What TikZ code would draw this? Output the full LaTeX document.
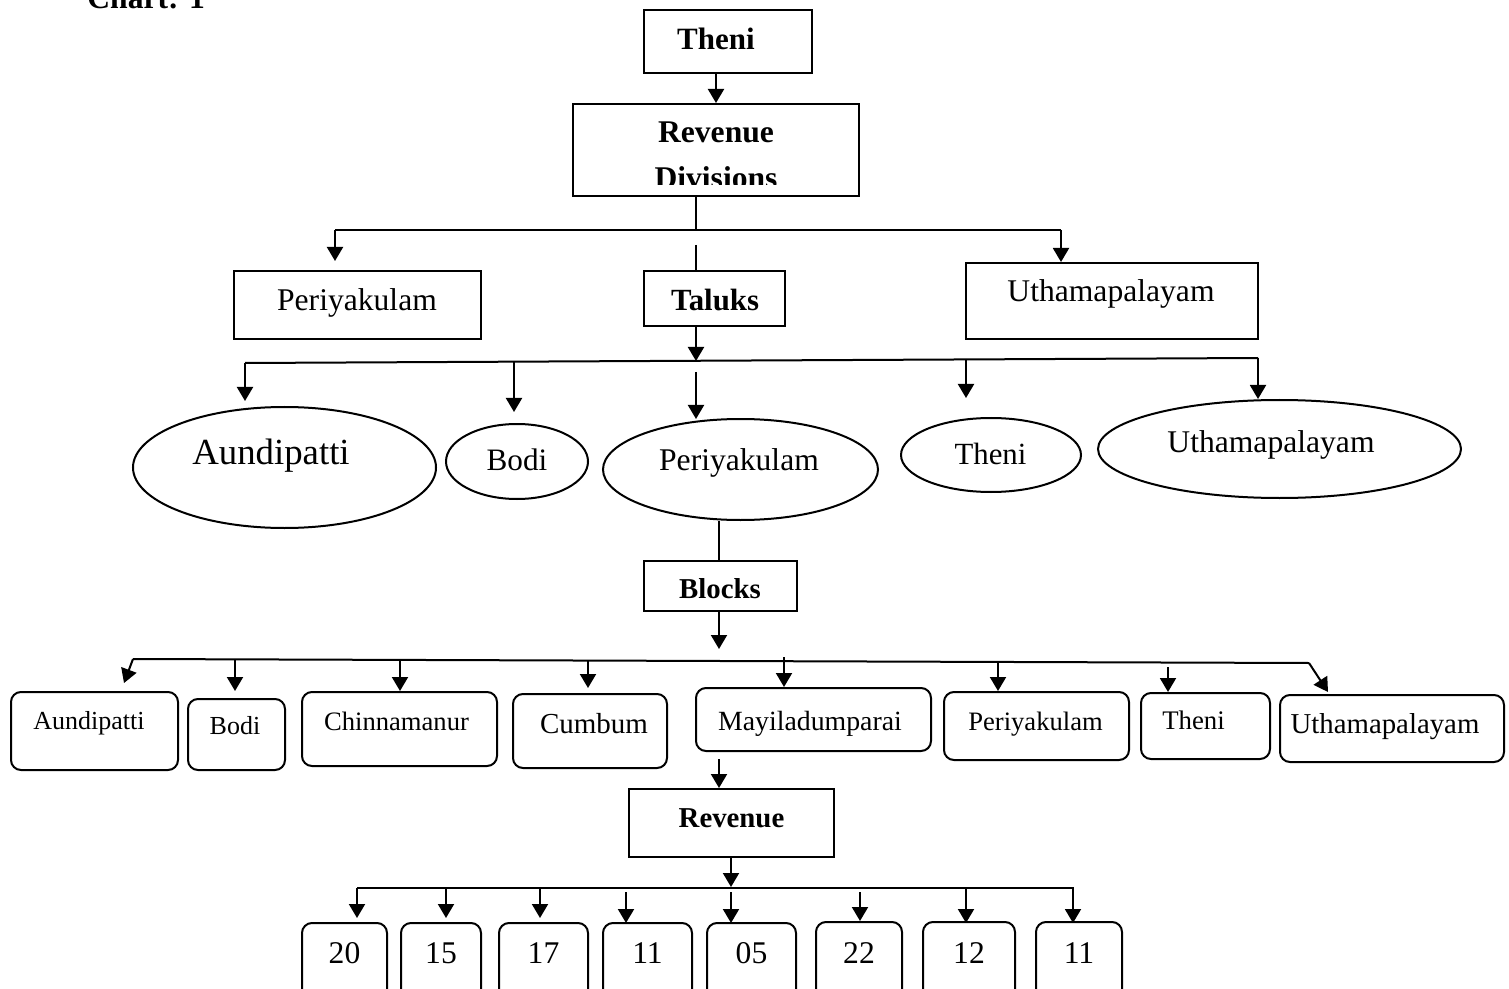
\documentclass[tikz,border=0pt]{standalone}
\usepackage{fontspec}
\setmainfont{Liberation Serif}
\usetikzlibrary{arrows.meta,fit,shapes.geometric}
\tikzset{
  lw/.style={line width=1pt},
  bx/.style={draw, lw, inner sep=0pt, rectangle},
  rbx/.style={draw, lw, inner sep=0pt, rectangle, rounded corners=5pt},
  ell/.style={draw, lw, ellipse, inner sep=0pt},
  txt/.style={inner sep=0pt, anchor=base, font=\fontsize{#1}{#1}\selectfont},
  btxt/.style={inner sep=0pt, anchor=base, font=\fontsize{#1}{#1}\selectfont\bfseries},
  arr/.style={lw, -{Triangle[length=7pt,width=8pt]}},
  ln/.style={lw},
}
\begin{document}
\begin{tikzpicture}[x=0.5pt,y=-0.5pt]
\useasboundingbox (0,0) rectangle (1509,989);
\clip (0,0) rectangle (1509,989);

% title
\node[btxt=15.8, anchor=base west] (title) at (87,9) {Chart: 1};

% level 1
\node[bx, fit={(644,10) (812,73)}] (theni) {};
\node[btxt=15.5] (thenit) at (716,50) {Theni};
\node[bx, fit={(573,104) (859,196)}] (revdiv) {};
\node[btxt=15.8] (revdivt) at (716,143) {Revenue};
\begin{scope}
  \clip (573,104) rectangle (859,185);
  \node[btxt=15.8] (divt) at (716,189) {Divisions};
\end{scope}

% level 2
\node[bx, fit={(234,271) (481,339)}] (perbox) {};
\node[txt=15.8] at (357,311) {Periyakulam};
\node[bx, fit={(644,271) (785,326)}] (taluks) {};
\node[btxt=15.4] at (715,311) {Taluks};
\node[bx, fit={(966,263) (1258,339)}] (uthbox) {};
\node[txt=15.8] at (1111,302) {Uthamapalayam};

% ellipses
\node[ell, minimum width=151.5pt, minimum height=60.5pt] (aune) at (284.5,467.5) {};
\node[txt=18.4] at (271,464) {Aundipatti};
\node[ell, minimum width=71pt, minimum height=37.5pt] (bode) at (517,461.5) {};
\node[txt=15.6] at (517,470) {Bodi};
\node[ell, minimum width=137.5pt, minimum height=50.5pt] (pere) at (740.5,469.5) {};
\node[txt=15.8] at (739,470) {Periyakulam};
\node[ell, minimum width=90pt, minimum height=37pt] (thee) at (991,455) {};
\node[txt=15.4] at (990.5,465) {Theni};
\node[ell, minimum width=181.5pt, minimum height=49pt] (uthe) at (1279.5,449) {};
\node[txt=15.8] at (1271,452) {Uthamapalayam};

% blocks
\node[bx, fit={(644,561) (797,611)}] (blocks) {};
\node[btxt=14.4] at (720,598) {Blocks};

\node[rbx, fit={(11,692) (178,770)}] (b1) {};
\node[txt=13] at (89,729) {Aundipatti};
\node[rbx, fit={(188,699) (285,770)}] (b2) {};
\node[txt=13] at (235,734) {Bodi};
\node[rbx, fit={(302,692) (497,766)}] (b3) {};
\node[txt=13.3] at (396.5,730) {Chinnamanur};
\node[rbx, fit={(513,694) (667,768)}] (b4) {};
\node[txt=14.5] at (594,733) {Cumbum};
\node[rbx, fit={(696,688) (931,751)}] (b5) {};
\node[txt=13.9] at (810,730) {Mayiladumparai};
\node[rbx, fit={(944,692) (1129,760)}] (b6) {};
\node[txt=13.3] at (1035.5,730) {Periyakulam};
\node[rbx, fit={(1141,693) (1270,759)}] (b7) {};
\node[txt=13.4] at (1193.5,729) {Theni};
\node[rbx, fit={(1280,695) (1504,762)}] (b8) {};
\node[txt=14.4] at (1385,733) {Uthamapalayam};

% revenue
\node[bx, fit={(629,789) (834,857)}] (rev) {};
\node[btxt=14.4] at (731.5,827) {Revenue};

% numbers
\node[rbx, fit={(302,923) (387,1010)}] (n1) {};
\node[txt=15.8] at (344.5,963) {20};
\node[rbx, fit={(401,923) (481,1010)}] (n2) {};
\node[txt=15.8] at (441,963) {15};
\node[rbx, fit={(499,923) (588,1010)}] (n3) {};
\node[txt=15.8] at (543.5,963) {17};
\node[rbx, fit={(603,923) (692,1010)}] (n4) {};
\node[txt=15.8] at (647.5,963) {11};
\node[rbx, fit={(707,923) (796,1010)}] (n5) {};
\node[txt=15.8] at (751.5,963) {05};
\node[rbx, fit={(816,922) (902,1010)}] (n6) {};
\node[txt=15.8] at (859,963) {22};
\node[rbx, fit={(923,922) (1015,1010)}] (n7) {};
\node[txt=15.8] at (969,963) {12};
\node[rbx, fit={(1036,922) (1122,1010)}] (n8) {};
\node[txt=15.8] at (1079,963) {11};

% helper coordinates
\coordinate (x716) at (716,0);
\coordinate (x696) at (696,0);
\coordinate (x719) at (719,0);
\coordinate (x731) at (731,0);

% connectors: top
\draw[arr] (x716 |- theni.south) -- (x716 |- revdiv.north);
\coordinate (bus1L) at (335,230);
\coordinate (bus1M) at (696,230);
\coordinate (bus1R) at (1061,230);
\draw[ln] (x696 |- revdiv.south) -- (bus1M);
\draw[ln] (bus1L) -- (bus1R);
\coordinate (pbtip) at (335,261);
\draw[arr] (bus1L) -- (pbtip);
\draw[arr] (bus1R) -- (bus1R |- uthbox.north);
\coordinate (tlstart) at (696,245);
\draw[ln] (tlstart) -- (x696 |- taluks.north);

% taluks bus
\coordinate (bus2L) at (245,363);
\coordinate (bus2R) at (1258,358);
\coordinate (bus2M) at (696,361);
\draw[arr] (x696 |- taluks.south) -- (bus2M);
\draw[ln] (bus2L) -- (bus2R);
\coordinate (t1) at (245,401);
\draw[arr] (bus2L) -- (t1);
\coordinate (t2a) at (514,362); \coordinate (t2b) at (514,412);
\draw[arr] (t2a) -- (t2b);
\coordinate (t3a) at (696,372); \coordinate (t3b) at (696,419);
\draw[arr] (t3a) -- (t3b);
\coordinate (t4a) at (966,359); \coordinate (t4b) at (966,398);
\draw[arr] (t4a) -- (t4b);
\draw[arr] (bus2R) -- (bus2R |- uthe.north);

% blocks
\draw[ln] (x719 |- pere.south) -- (x719 |- blocks.north);
\coordinate (bltip) at (719,649);
\draw[arr] (x719 |- blocks.south) -- (bltip);
\coordinate (bus3L) at (133,659);
\coordinate (bus3R) at (1309,663);
\draw[ln] (bus3L) -- (bus3R);
\coordinate (k1) at (124,683);
\draw[arr] (bus3L) -- (k1);
\coordinate (k2a) at (235,660); \coordinate (k2b) at (235,691);
\draw[arr] (k2a) -- (k2b);
\coordinate (k3a) at (400,660);
\draw[arr] (k3a) -- (k3a |- b3.north);
\coordinate (k4a) at (588,661); \coordinate (k4b) at (588,688);
\draw[arr] (k4a) -- (k4b);
\coordinate (k5a) at (784,657);
\draw[arr] (k5a) -- (k5a |- b5.north);
\coordinate (k6a) at (998,662);
\draw[arr] (k6a) -- (k6a |- b6.north);
\coordinate (k7a) at (1168,667);
\draw[arr] (k7a) -- (k7a |- b7.north);
\coordinate (k8) at (1328,692);
\draw[arr] (bus3R) -- (k8);

% revenue
\coordinate (rvstart) at (719,759);
\draw[arr] (rvstart) -- (rvstart |- rev.north);
\coordinate (bus4M) at (731,887);
\draw[arr] (x731 |- rev.south) -- (bus4M);
\coordinate (bus4L) at (357,888);
\coordinate (bus4R) at (1074,888);
\draw[ln] (bus4L) -- (bus4R);
\foreach \xa/\ya/\yb in {357/888/918, 446/888/918, 540/888/918, 626/892/923, 731/892/923, 860/892/921, 966/888/923, 1073/888/923}{
  \draw[arr] (\xa,\ya) -- (\xa,\yb);
}
\end{tikzpicture}
\end{document}
